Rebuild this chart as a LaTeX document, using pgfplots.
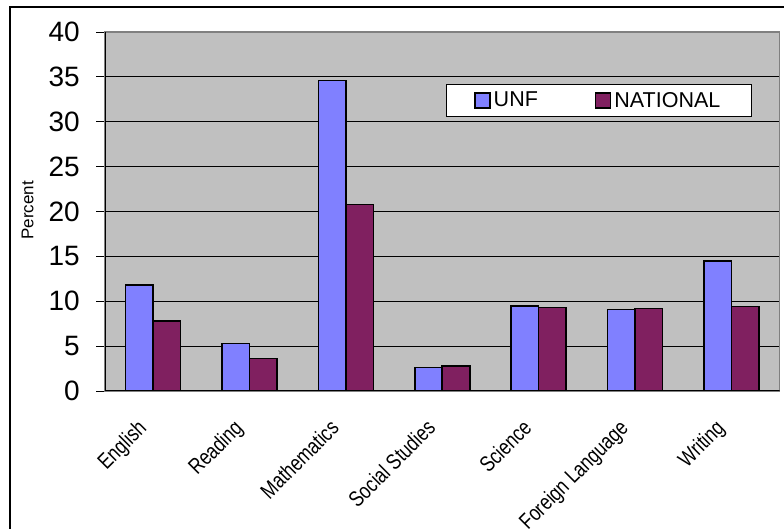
\documentclass[border=0pt]{standalone}
\usepackage{fontspec}
\setmainfont{Liberation Sans}
\newfontfamily\narrowsans[FakeStretch=0.8]{Liberation Sans}
\usepackage{pgfplots}
\pgfplotsset{compat=1.18}
\definecolor{unf}{RGB}{128,128,255}
\definecolor{natl}{RGB}{128,32,96}
\definecolor{plotbg}{RGB}{192,192,192}
\definecolor{frame}{RGB}{128,128,128}

\begin{document}
\begin{tikzpicture}[x=1pt,y=1pt]
\useasboundingbox (0,0) rectangle (784,529);
\fill[white] (0,0) rectangle (784,529);
\draw[line width=1.3pt] (10,522) rectangle (800,-20);
\begin{axis}[
  at={(105pt,138pt)}, anchor=south west,
  width=674.5pt, height=359pt, scale only axis,
  xmin=-0.5, xmax=6.5, ymin=0, ymax=40,
  ybar,
  bar width=27.5pt,
  axis background/.style={fill=plotbg},
  axis line style={draw=frame, line width=1.2pt},
  ytick={0,5,...,40},
  xtick={0,...,6},
  xticklabels={English,Reading,Mathematics,Social Studies,Science,Foreign Language,Writing},
  minor xtick={-0.5,0.5,...,6.5},
  tick align=outside,
  xtick pos=bottom, ytick pos=left,
  major tick length=9pt,
  minor tick length=8pt,
  xtick style={draw=none},
  ytick style={black, line width=0.9pt},
  minor x tick style={black, line width=0.9pt},
  ymajorgrids,
  major grid style={black, line width=0.8pt},
  /pgf/number format/assume math mode=true,
  yticklabel style={font=\fontsize{28}{30}\selectfont, inner sep=0pt, anchor=east, xshift=-16pt},
  xticklabel style={font=\narrowsans\fontsize{22}{24}\selectfont, inner sep=0pt, xshift=-17pt, yshift=-18pt, rotate=45, anchor=north east},
  legend image code/.code={\draw[#1, line width=1.5pt] (0pt,-7.5pt) rectangle (15pt,7.5pt);},
  legend style={at={(rel axis cs:0.959,0.855)}, anchor=north east,
    draw=black, line width=1pt, fill=white,
    font=\fontsize{21.5}{23}\selectfont,
    legend columns=2, inner xsep=28pt, inner ysep=5.5pt,
    nodes={inner xsep=3pt},
    /tikz/every even column/.append style={column sep=54pt}},
  legend cell align=left,
]
% share of students by subject, UNF against the national figure
\addplot[fill=unf, draw=black, line width=1.6pt, bar shift=-13.75pt]
  coordinates {(0,11.8) (1,5.3) (2,34.6) (3,2.6) (4,9.5) (5,9.1) (6,14.5)};
\addplot[fill=natl, draw=black, line width=1.6pt, bar shift=13.75pt]
  coordinates {(0,7.8) (1,3.6) (2,20.8) (3,2.8) (4,9.3) (5,9.2) (6,9.4)};
\legend{UNF,NATIONAL}
% axis lines drawn black over the grey plot frame
\draw[black, line width=1.2pt] (rel axis cs:0,0) -- (rel axis cs:0,1);
\draw[black, line width=1.2pt] (rel axis cs:0,0) -- (rel axis cs:1,0);
\end{axis}
\node[rotate=90, font=\fontsize{17}{19}\selectfont] at (27.5,318.5) {Percent};
\end{tikzpicture}
\end{document}
